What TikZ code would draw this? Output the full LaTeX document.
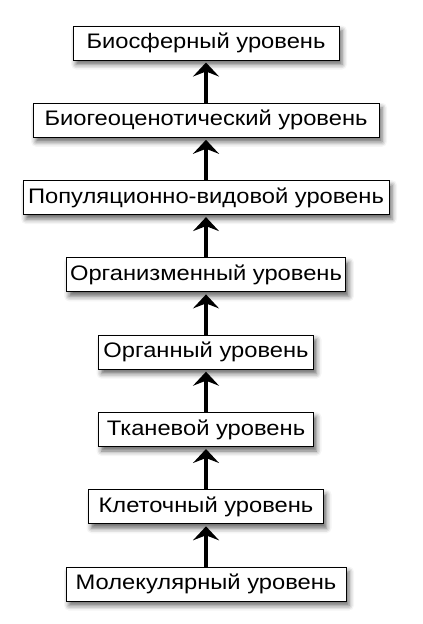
\documentclass[tikz,border=0pt]{standalone}
\usepackage{fontspec}
\setmainfont{Liberation Sans}
\newfontfamily\levelfont[FakeStretch=1.13]{Liberation Sans}
\usetikzlibrary{positioning}
\usetikzlibrary{arrows.meta}
\usetikzlibrary{shadows.blur}

\begin{document}
\begin{tikzpicture}[
                          x=1pt, y=1pt,
                          node distance=42.3pt,
                          levelbox/.style={rectangle, draw, line width=1pt, fill=white, minimum height=34pt, inner ysep=0pt, inner xsep=4pt,
                                           font=\levelfont\fontsize{21}{24}\selectfont,
                                           blur shadow={shadow xshift=3pt, shadow yshift=-4.5pt, shadow blur radius=5pt, shadow opacity=60}},
                          uparrow/.style={line width=4.5pt, -{Stealth[length=14pt, width=26pt, inset=5pt]}, shorten >=2pt},
                      ]
                      \useasboundingbox (0,0) rectangle (423,-624);
                      % Nodes
                      \node[levelbox, minimum width=266pt]  (biosphere)  at (206,-43)       {Биосферный уровень};
                      \node[levelbox, minimum width=346pt]  (biogeo)     [below=of biosphere]  {Биогеоценотический уровень};
                      \node[levelbox, minimum width=366pt]  (population) [below=of biogeo]     {Популяционно-видовой уровень};
                      \node[levelbox, minimum width=278pt]  (organism)   [below=of population] {Организменный уровень};
                      \node[levelbox, minimum width=215pt]  (organ)      [below=of organism]   {Органный уровень};
                      \node[levelbox, minimum width=215pt]  (tissue)     [below=of organ]      {Тканевой уровень};
                      \node[levelbox, minimum width=235pt]  (cell)       [below=of tissue]     {Клеточный уровень};
                      \node[levelbox, minimum width=280pt]  (molecule)   [below=of cell]       {Молекулярный уровень};

                      %Lines
                      \draw[uparrow] (molecule.north) -- (cell.south);
                      \draw[uparrow] (cell.north) -- (tissue.south);
                      \draw[uparrow] (tissue.north) -- (organ.south);
                      \draw[uparrow] (organ.north) -- (organism.south);
                      \draw[uparrow] (organism.north) -- (population.south);
                      \draw[uparrow] (population.north) -- (biogeo.south);
                      \draw[uparrow] (biogeo.north) -- (biosphere.south);
                  \end{tikzpicture}
\end{document}
